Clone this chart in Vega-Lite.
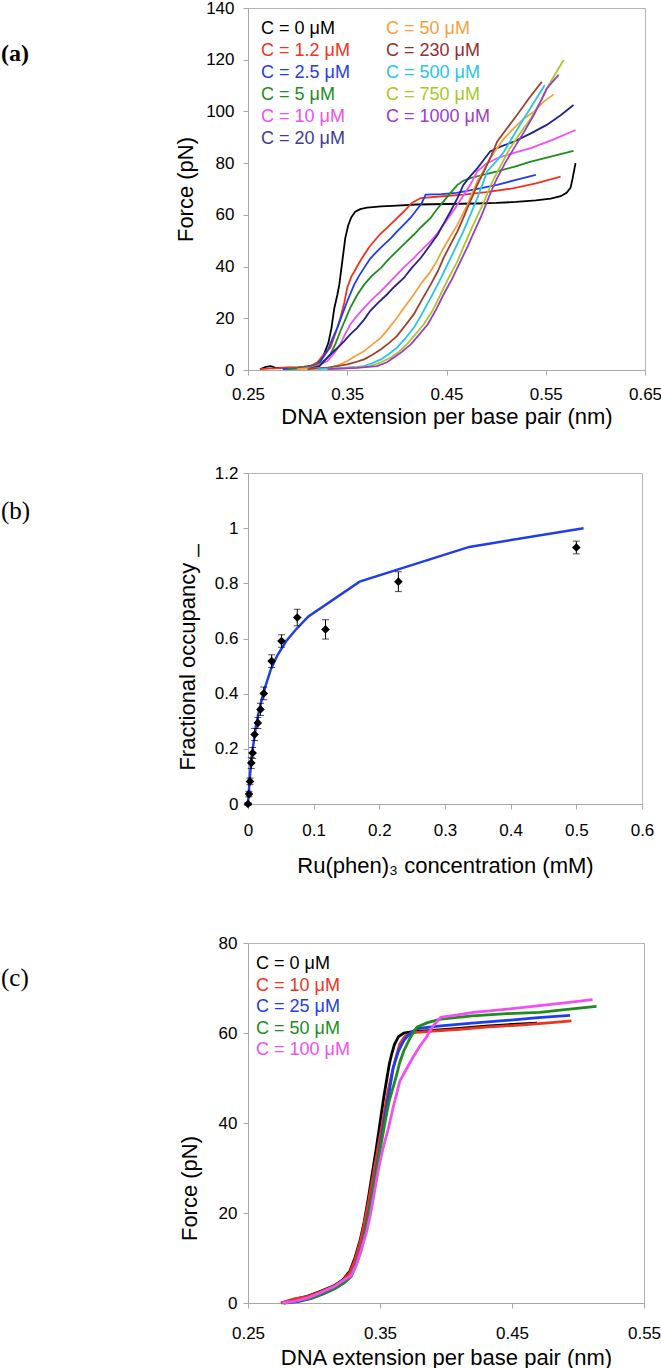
{
  "$schema": "https://vega.github.io/schema/vega-lite/v6.json",
  "padding": {"left": 0, "top": -2, "right": 0, "bottom": 0},
  "background": "white",
  "config": {
    "font": "Liberation Sans",
    "view": {"stroke": "#b4b4b4", "strokeWidth": 1},
    "axis": {"grid": false, "domainColor": "#a8a8a8", "tickColor": "#a8a8a8", "tickSize": 5, "labelFont": "Liberation Sans", "labelFontSize": 17, "labelColor": "#000000", "titleFont": "Liberation Sans", "titleFontSize": 22, "titleFontWeight": "normal", "titleColor": "#000000", "labelFlush": false, "labelOverlap": false},
    "legend": {"title": null, "symbolSize": 1, "symbolType": "circle", "symbolStrokeWidth": 0, "symbolOpacity": 0, "labelFont": "Liberation Sans", "labelFontSize": 18, "labelOffset": 0, "padding": 0, "labelLimit": 300}
  },
  "datasets": {
    "a": [
      {"series": "C = 0 μM", "x": 0.262, "F": 0.3}, {"series": "C = 0 μM", "x": 0.268, "F": 1.2}, {"series": "C = 0 μM", "x": 0.273, "F": 1.5}, {"series": "C = 0 μM", "x": 0.278, "F": 0.8}, {"series": "C = 0 μM", "x": 0.29, "F": 0.9}, {"series": "C = 0 μM", "x": 0.3, "F": 0.9}, {"series": "C = 0 μM", "x": 0.31, "F": 1.4}, {"series": "C = 0 μM", "x": 0.318, "F": 2.0}, {"series": "C = 0 μM", "x": 0.323, "F": 3.5}, {"series": "C = 0 μM", "x": 0.327, "F": 6.5}, {"series": "C = 0 μM", "x": 0.331, "F": 10.5}, {"series": "C = 0 μM", "x": 0.334, "F": 16}, {"series": "C = 0 μM", "x": 0.337, "F": 24}, {"series": "C = 0 μM", "x": 0.34, "F": 29}, {"series": "C = 0 μM", "x": 0.342, "F": 33}, {"series": "C = 0 μM", "x": 0.345, "F": 42}, {"series": "C = 0 μM", "x": 0.348, "F": 51}, {"series": "C = 0 μM", "x": 0.351, "F": 56}, {"series": "C = 0 μM", "x": 0.354, "F": 59}, {"series": "C = 0 μM", "x": 0.358, "F": 61.2}, {"series": "C = 0 μM", "x": 0.363, "F": 62.2}, {"series": "C = 0 μM", "x": 0.37, "F": 62.8}, {"series": "C = 0 μM", "x": 0.384, "F": 63.3}, {"series": "C = 0 μM", "x": 0.4, "F": 63.6}, {"series": "C = 0 μM", "x": 0.42, "F": 64.0}, {"series": "C = 0 μM", "x": 0.45, "F": 64.2}, {"series": "C = 0 μM", "x": 0.48, "F": 64.4}, {"series": "C = 0 μM", "x": 0.5, "F": 64.6}, {"series": "C = 0 μM", "x": 0.52, "F": 65.0}, {"series": "C = 0 μM", "x": 0.54, "F": 65.6}, {"series": "C = 0 μM", "x": 0.555, "F": 66.3}, {"series": "C = 0 μM", "x": 0.565, "F": 67.2}, {"series": "C = 0 μM", "x": 0.571, "F": 68.5}, {"series": "C = 0 μM", "x": 0.575, "F": 70.5}, {"series": "C = 0 μM", "x": 0.577, "F": 74}, {"series": "C = 0 μM", "x": 0.58, "F": 80},
      {"series": "C = 1.2 μM", "x": 0.262, "F": 0.3}, {"series": "C = 1.2 μM", "x": 0.275, "F": 0.6}, {"series": "C = 1.2 μM", "x": 0.29, "F": 0.9}, {"series": "C = 1.2 μM", "x": 0.3, "F": 1.0}, {"series": "C = 1.2 μM", "x": 0.313, "F": 1.5}, {"series": "C = 1.2 μM", "x": 0.32, "F": 3}, {"series": "C = 1.2 μM", "x": 0.325, "F": 5.4}, {"series": "C = 1.2 μM", "x": 0.33, "F": 7.5}, {"series": "C = 1.2 μM", "x": 0.333, "F": 8.6}, {"series": "C = 1.2 μM", "x": 0.338, "F": 14}, {"series": "C = 1.2 μM", "x": 0.343, "F": 20}, {"series": "C = 1.2 μM", "x": 0.347, "F": 26}, {"series": "C = 1.2 μM", "x": 0.35, "F": 31.8}, {"series": "C = 1.2 μM", "x": 0.354, "F": 36}, {"series": "C = 1.2 μM", "x": 0.357, "F": 38}, {"series": "C = 1.2 μM", "x": 0.362, "F": 41.5}, {"series": "C = 1.2 μM", "x": 0.367, "F": 44.6}, {"series": "C = 1.2 μM", "x": 0.372, "F": 47.5}, {"series": "C = 1.2 μM", "x": 0.377, "F": 49.8}, {"series": "C = 1.2 μM", "x": 0.383, "F": 52.5}, {"series": "C = 1.2 μM", "x": 0.39, "F": 55}, {"series": "C = 1.2 μM", "x": 0.398, "F": 58}, {"series": "C = 1.2 μM", "x": 0.407, "F": 61.3}, {"series": "C = 1.2 μM", "x": 0.415, "F": 64.6}, {"series": "C = 1.2 μM", "x": 0.424, "F": 66.5}, {"series": "C = 1.2 μM", "x": 0.44, "F": 67.0}, {"series": "C = 1.2 μM", "x": 0.467, "F": 67.8}, {"series": "C = 1.2 μM", "x": 0.49, "F": 68.8}, {"series": "C = 1.2 μM", "x": 0.518, "F": 70.3}, {"series": "C = 1.2 μM", "x": 0.54, "F": 72.2}, {"series": "C = 1.2 μM", "x": 0.565, "F": 74.8},
      {"series": "C = 2.5 μM", "x": 0.285, "F": 0.3}, {"series": "C = 2.5 μM", "x": 0.3, "F": 0.5}, {"series": "C = 2.5 μM", "x": 0.305, "F": 0.8}, {"series": "C = 2.5 μM", "x": 0.312, "F": 1.2}, {"series": "C = 2.5 μM", "x": 0.32, "F": 2.2}, {"series": "C = 2.5 μM", "x": 0.325, "F": 4.5}, {"series": "C = 2.5 μM", "x": 0.33, "F": 7.3}, {"series": "C = 2.5 μM", "x": 0.335, "F": 12}, {"series": "C = 2.5 μM", "x": 0.34, "F": 16.3}, {"series": "C = 2.5 μM", "x": 0.345, "F": 21.5}, {"series": "C = 2.5 μM", "x": 0.35, "F": 26.6}, {"series": "C = 2.5 μM", "x": 0.357, "F": 33}, {"series": "C = 2.5 μM", "x": 0.362, "F": 36.5}, {"series": "C = 2.5 μM", "x": 0.367, "F": 39.5}, {"series": "C = 2.5 μM", "x": 0.373, "F": 43}, {"series": "C = 2.5 μM", "x": 0.38, "F": 45.9}, {"series": "C = 2.5 μM", "x": 0.387, "F": 48.5}, {"series": "C = 2.5 μM", "x": 0.394, "F": 51}, {"series": "C = 2.5 μM", "x": 0.4, "F": 53.5}, {"series": "C = 2.5 μM", "x": 0.407, "F": 56.2}, {"series": "C = 2.5 μM", "x": 0.414, "F": 59}, {"series": "C = 2.5 μM", "x": 0.42, "F": 62}, {"series": "C = 2.5 μM", "x": 0.425, "F": 64.5}, {"series": "C = 2.5 μM", "x": 0.429, "F": 67.8}, {"series": "C = 2.5 μM", "x": 0.445, "F": 68.0}, {"series": "C = 2.5 μM", "x": 0.46, "F": 68.5}, {"series": "C = 2.5 μM", "x": 0.467, "F": 69}, {"series": "C = 2.5 μM", "x": 0.485, "F": 70.3}, {"series": "C = 2.5 μM", "x": 0.501, "F": 71.6}, {"series": "C = 2.5 μM", "x": 0.52, "F": 73.5}, {"series": "C = 2.5 μM", "x": 0.54, "F": 75.5},
      {"series": "C = 5 μM", "x": 0.29, "F": 0.3}, {"series": "C = 5 μM", "x": 0.305, "F": 0.9}, {"series": "C = 5 μM", "x": 0.315, "F": 1.5}, {"series": "C = 5 μM", "x": 0.322, "F": 2.5}, {"series": "C = 5 μM", "x": 0.328, "F": 4}, {"series": "C = 5 μM", "x": 0.333, "F": 6}, {"series": "C = 5 μM", "x": 0.338, "F": 10}, {"series": "C = 5 μM", "x": 0.343, "F": 15}, {"series": "C = 5 μM", "x": 0.348, "F": 19.5}, {"series": "C = 5 μM", "x": 0.353, "F": 24}, {"series": "C = 5 μM", "x": 0.36, "F": 29}, {"series": "C = 5 μM", "x": 0.367, "F": 33}, {"series": "C = 5 μM", "x": 0.375, "F": 36.5}, {"series": "C = 5 μM", "x": 0.384, "F": 39.5}, {"series": "C = 5 μM", "x": 0.392, "F": 43}, {"series": "C = 5 μM", "x": 0.4, "F": 46}, {"series": "C = 5 μM", "x": 0.408, "F": 49}, {"series": "C = 5 μM", "x": 0.417, "F": 52.3}, {"series": "C = 5 μM", "x": 0.425, "F": 55.5}, {"series": "C = 5 μM", "x": 0.434, "F": 58.8}, {"series": "C = 5 μM", "x": 0.44, "F": 62}, {"series": "C = 5 μM", "x": 0.447, "F": 65.2}, {"series": "C = 5 μM", "x": 0.454, "F": 68.5}, {"series": "C = 5 μM", "x": 0.461, "F": 71.6}, {"series": "C = 5 μM", "x": 0.467, "F": 73.2}, {"series": "C = 5 μM", "x": 0.474, "F": 74.2}, {"series": "C = 5 μM", "x": 0.49, "F": 75.8}, {"series": "C = 5 μM", "x": 0.501, "F": 76.8}, {"series": "C = 5 μM", "x": 0.518, "F": 78.6}, {"series": "C = 5 μM", "x": 0.535, "F": 80.6}, {"series": "C = 5 μM", "x": 0.555, "F": 82.5}, {"series": "C = 5 μM", "x": 0.578, "F": 84.7},
      {"series": "C = 10 μM", "x": 0.3, "F": 0.3}, {"series": "C = 10 μM", "x": 0.315, "F": 1}, {"series": "C = 10 μM", "x": 0.325, "F": 2.5}, {"series": "C = 10 μM", "x": 0.33, "F": 3.5}, {"series": "C = 10 μM", "x": 0.337, "F": 6.5}, {"series": "C = 10 μM", "x": 0.343, "F": 10}, {"series": "C = 10 μM", "x": 0.348, "F": 14}, {"series": "C = 10 μM", "x": 0.353, "F": 17.6}, {"series": "C = 10 μM", "x": 0.36, "F": 21}, {"series": "C = 10 μM", "x": 0.367, "F": 24}, {"series": "C = 10 μM", "x": 0.375, "F": 27.3}, {"series": "C = 10 μM", "x": 0.384, "F": 30.5}, {"series": "C = 10 μM", "x": 0.392, "F": 33.7}, {"series": "C = 10 μM", "x": 0.4, "F": 36.9}, {"series": "C = 10 μM", "x": 0.408, "F": 40.1}, {"series": "C = 10 μM", "x": 0.417, "F": 43.3}, {"series": "C = 10 μM", "x": 0.425, "F": 46.5}, {"series": "C = 10 μM", "x": 0.434, "F": 49.8}, {"series": "C = 10 μM", "x": 0.441, "F": 53}, {"series": "C = 10 μM", "x": 0.447, "F": 56.2}, {"series": "C = 10 μM", "x": 0.454, "F": 60}, {"series": "C = 10 μM", "x": 0.461, "F": 63.9}, {"series": "C = 10 μM", "x": 0.467, "F": 67.5}, {"series": "C = 10 μM", "x": 0.474, "F": 71.6}, {"series": "C = 10 μM", "x": 0.481, "F": 76.8}, {"series": "C = 10 μM", "x": 0.49, "F": 79.8}, {"series": "C = 10 μM", "x": 0.501, "F": 81.9}, {"series": "C = 10 μM", "x": 0.518, "F": 84}, {"series": "C = 10 μM", "x": 0.535, "F": 85.8}, {"series": "C = 10 μM", "x": 0.558, "F": 89.2}, {"series": "C = 10 μM", "x": 0.58, "F": 92.8},
      {"series": "C = 20 μM", "x": 0.31, "F": 0.3}, {"series": "C = 20 μM", "x": 0.322, "F": 1.5}, {"series": "C = 20 μM", "x": 0.333, "F": 6}, {"series": "C = 20 μM", "x": 0.34, "F": 8.5}, {"series": "C = 20 μM", "x": 0.347, "F": 11.2}, {"series": "C = 20 μM", "x": 0.353, "F": 13.8}, {"series": "C = 20 μM", "x": 0.36, "F": 16.3}, {"series": "C = 20 μM", "x": 0.367, "F": 19.5}, {"series": "C = 20 μM", "x": 0.373, "F": 22.8}, {"series": "C = 20 μM", "x": 0.381, "F": 26}, {"series": "C = 20 μM", "x": 0.39, "F": 29.2}, {"series": "C = 20 μM", "x": 0.398, "F": 32.4}, {"series": "C = 20 μM", "x": 0.407, "F": 35.6}, {"series": "C = 20 μM", "x": 0.415, "F": 39.5}, {"series": "C = 20 μM", "x": 0.424, "F": 43.3}, {"series": "C = 20 μM", "x": 0.432, "F": 47.5}, {"series": "C = 20 μM", "x": 0.441, "F": 52.3}, {"series": "C = 20 μM", "x": 0.447, "F": 56.5}, {"series": "C = 20 μM", "x": 0.454, "F": 61.3}, {"series": "C = 20 μM", "x": 0.461, "F": 66.5}, {"series": "C = 20 μM", "x": 0.467, "F": 71.6}, {"series": "C = 20 μM", "x": 0.474, "F": 75}, {"series": "C = 20 μM", "x": 0.481, "F": 78}, {"series": "C = 20 μM", "x": 0.488, "F": 81.5}, {"series": "C = 20 μM", "x": 0.494, "F": 84.5}, {"series": "C = 20 μM", "x": 0.505, "F": 86.5}, {"series": "C = 20 μM", "x": 0.518, "F": 88.3}, {"series": "C = 20 μM", "x": 0.535, "F": 91.5}, {"series": "C = 20 μM", "x": 0.551, "F": 94.8}, {"series": "C = 20 μM", "x": 0.565, "F": 98.5}, {"series": "C = 20 μM", "x": 0.578, "F": 102.5},
      {"series": "C = 50 μM", "x": 0.3, "F": 0.3}, {"series": "C = 50 μM", "x": 0.32, "F": 0.6}, {"series": "C = 50 μM", "x": 0.333, "F": 0.9}, {"series": "C = 50 μM", "x": 0.342, "F": 2}, {"series": "C = 50 μM", "x": 0.35, "F": 3.5}, {"series": "C = 50 μM", "x": 0.358, "F": 5.3}, {"series": "C = 50 μM", "x": 0.367, "F": 7.3}, {"series": "C = 50 μM", "x": 0.375, "F": 9.8}, {"series": "C = 50 μM", "x": 0.384, "F": 12.5}, {"series": "C = 50 μM", "x": 0.392, "F": 16.2}, {"series": "C = 50 μM", "x": 0.4, "F": 20.2}, {"series": "C = 50 μM", "x": 0.408, "F": 24.5}, {"series": "C = 50 μM", "x": 0.417, "F": 29.2}, {"series": "C = 50 μM", "x": 0.425, "F": 33.7}, {"series": "C = 50 μM", "x": 0.434, "F": 38.2}, {"series": "C = 50 μM", "x": 0.441, "F": 42.7}, {"series": "C = 50 μM", "x": 0.447, "F": 47.2}, {"series": "C = 50 μM", "x": 0.454, "F": 51.7}, {"series": "C = 50 μM", "x": 0.461, "F": 56.2}, {"series": "C = 50 μM", "x": 0.466, "F": 60}, {"series": "C = 50 μM", "x": 0.471, "F": 63.9}, {"series": "C = 50 μM", "x": 0.476, "F": 68.4}, {"series": "C = 50 μM", "x": 0.481, "F": 72.9}, {"series": "C = 50 μM", "x": 0.488, "F": 77.5}, {"series": "C = 50 μM", "x": 0.494, "F": 81.9}, {"series": "C = 50 μM", "x": 0.501, "F": 85.8}, {"series": "C = 50 μM", "x": 0.508, "F": 89.6}, {"series": "C = 50 μM", "x": 0.518, "F": 93.5}, {"series": "C = 50 μM", "x": 0.528, "F": 97.3}, {"series": "C = 50 μM", "x": 0.538, "F": 99.9}, {"series": "C = 50 μM", "x": 0.548, "F": 103.8}, {"series": "C = 50 μM", "x": 0.558, "F": 106.6},
      {"series": "C = 230 μM", "x": 0.31, "F": 0.3}, {"series": "C = 230 μM", "x": 0.33, "F": 0.9}, {"series": "C = 230 μM", "x": 0.34, "F": 1.5}, {"series": "C = 230 μM", "x": 0.35, "F": 2.2}, {"series": "C = 230 μM", "x": 0.358, "F": 3}, {"series": "C = 230 μM", "x": 0.367, "F": 4.1}, {"series": "C = 230 μM", "x": 0.375, "F": 5.8}, {"series": "C = 230 μM", "x": 0.384, "F": 8}, {"series": "C = 230 μM", "x": 0.392, "F": 10.4}, {"series": "C = 230 μM", "x": 0.4, "F": 13.1}, {"series": "C = 230 μM", "x": 0.408, "F": 17}, {"series": "C = 230 μM", "x": 0.417, "F": 21.5}, {"series": "C = 230 μM", "x": 0.425, "F": 27}, {"series": "C = 230 μM", "x": 0.434, "F": 33}, {"series": "C = 230 μM", "x": 0.441, "F": 38}, {"series": "C = 230 μM", "x": 0.447, "F": 43.3}, {"series": "C = 230 μM", "x": 0.454, "F": 48.5}, {"series": "C = 230 μM", "x": 0.461, "F": 53.6}, {"series": "C = 230 μM", "x": 0.466, "F": 58}, {"series": "C = 230 μM", "x": 0.471, "F": 62.6}, {"series": "C = 230 μM", "x": 0.476, "F": 67}, {"series": "C = 230 μM", "x": 0.481, "F": 71.6}, {"series": "C = 230 μM", "x": 0.488, "F": 77}, {"series": "C = 230 μM", "x": 0.494, "F": 81.9}, {"series": "C = 230 μM", "x": 0.501, "F": 88.3}, {"series": "C = 230 μM", "x": 0.511, "F": 93.5}, {"series": "C = 230 μM", "x": 0.521, "F": 98.6}, {"series": "C = 230 μM", "x": 0.533, "F": 105}, {"series": "C = 230 μM", "x": 0.546, "F": 111.5},
      {"series": "C = 500 μM", "x": 0.32, "F": 0.3}, {"series": "C = 500 μM", "x": 0.345, "F": 0.8}, {"series": "C = 500 μM", "x": 0.36, "F": 1.2}, {"series": "C = 500 μM", "x": 0.367, "F": 1.5}, {"series": "C = 500 μM", "x": 0.375, "F": 2.6}, {"series": "C = 500 μM", "x": 0.384, "F": 4.1}, {"series": "C = 500 μM", "x": 0.392, "F": 6.2}, {"series": "C = 500 μM", "x": 0.4, "F": 8.6}, {"series": "C = 500 μM", "x": 0.408, "F": 12}, {"series": "C = 500 μM", "x": 0.417, "F": 16.3}, {"series": "C = 500 μM", "x": 0.425, "F": 21.5}, {"series": "C = 500 μM", "x": 0.434, "F": 27.9}, {"series": "C = 500 μM", "x": 0.443, "F": 34.5}, {"series": "C = 500 μM", "x": 0.451, "F": 40.8}, {"series": "C = 500 μM", "x": 0.459, "F": 47.2}, {"series": "C = 500 μM", "x": 0.467, "F": 53.6}, {"series": "C = 500 μM", "x": 0.474, "F": 60}, {"series": "C = 500 μM", "x": 0.481, "F": 66.5}, {"series": "C = 500 μM", "x": 0.486, "F": 71.6}, {"series": "C = 500 μM", "x": 0.491, "F": 76.8}, {"series": "C = 500 μM", "x": 0.5, "F": 80.7}, {"series": "C = 500 μM", "x": 0.508, "F": 84.5}, {"series": "C = 500 μM", "x": 0.518, "F": 91}, {"series": "C = 500 μM", "x": 0.528, "F": 97.3}, {"series": "C = 500 μM", "x": 0.539, "F": 104}, {"series": "C = 500 μM", "x": 0.549, "F": 110.2},
      {"series": "C = 750 μM", "x": 0.33, "F": 0.3}, {"series": "C = 750 μM", "x": 0.355, "F": 0.8}, {"series": "C = 750 μM", "x": 0.373, "F": 1.5}, {"series": "C = 750 μM", "x": 0.384, "F": 3}, {"series": "C = 750 μM", "x": 0.394, "F": 4.8}, {"series": "C = 750 μM", "x": 0.402, "F": 7}, {"series": "C = 750 μM", "x": 0.41, "F": 9.9}, {"series": "C = 750 μM", "x": 0.418, "F": 13.5}, {"series": "C = 750 μM", "x": 0.427, "F": 17.6}, {"series": "C = 750 μM", "x": 0.436, "F": 23}, {"series": "C = 750 μM", "x": 0.444, "F": 29.2}, {"series": "C = 750 μM", "x": 0.452, "F": 35.5}, {"series": "C = 750 μM", "x": 0.461, "F": 42}, {"series": "C = 750 μM", "x": 0.467, "F": 47.5}, {"series": "C = 750 μM", "x": 0.474, "F": 53.6}, {"series": "C = 750 μM", "x": 0.481, "F": 59.5}, {"series": "C = 750 μM", "x": 0.488, "F": 65.2}, {"series": "C = 750 μM", "x": 0.493, "F": 70}, {"series": "C = 750 μM", "x": 0.498, "F": 74.2}, {"series": "C = 750 μM", "x": 0.506, "F": 80}, {"series": "C = 750 μM", "x": 0.514, "F": 85.8}, {"series": "C = 750 μM", "x": 0.524, "F": 91.5}, {"series": "C = 750 μM", "x": 0.535, "F": 97.3}, {"series": "C = 750 μM", "x": 0.545, "F": 104}, {"series": "C = 750 μM", "x": 0.555, "F": 111.5}, {"series": "C = 750 μM", "x": 0.562, "F": 116}, {"series": "C = 750 μM", "x": 0.568, "F": 119.9},
      {"series": "C = 1000 μM", "x": 0.33, "F": 0.3}, {"series": "C = 1000 μM", "x": 0.36, "F": 0.8}, {"series": "C = 1000 μM", "x": 0.38, "F": 1.5}, {"series": "C = 1000 μM", "x": 0.39, "F": 3}, {"series": "C = 1000 μM", "x": 0.397, "F": 4.8}, {"series": "C = 1000 μM", "x": 0.405, "F": 7}, {"series": "C = 1000 μM", "x": 0.414, "F": 9.9}, {"series": "C = 1000 μM", "x": 0.422, "F": 13.5}, {"series": "C = 1000 μM", "x": 0.431, "F": 17.6}, {"series": "C = 1000 μM", "x": 0.439, "F": 23}, {"series": "C = 1000 μM", "x": 0.447, "F": 29.2}, {"series": "C = 1000 μM", "x": 0.456, "F": 35.5}, {"series": "C = 1000 μM", "x": 0.464, "F": 42}, {"series": "C = 1000 μM", "x": 0.471, "F": 47.5}, {"series": "C = 1000 μM", "x": 0.478, "F": 53.6}, {"series": "C = 1000 μM", "x": 0.485, "F": 59.5}, {"series": "C = 1000 μM", "x": 0.491, "F": 65.2}, {"series": "C = 1000 μM", "x": 0.496, "F": 70}, {"series": "C = 1000 μM", "x": 0.501, "F": 74.2}, {"series": "C = 1000 μM", "x": 0.509, "F": 80}, {"series": "C = 1000 μM", "x": 0.518, "F": 85.8}, {"series": "C = 1000 μM", "x": 0.528, "F": 92}, {"series": "C = 1000 μM", "x": 0.538, "F": 98.6}, {"series": "C = 1000 μM", "x": 0.545, "F": 104}, {"series": "C = 1000 μM", "x": 0.551, "F": 108.9}, {"series": "C = 1000 μM", "x": 0.557, "F": 111.5}, {"series": "C = 1000 μM", "x": 0.563, "F": 114.1}
    ],
    "bpts": [
      {"c": 0, "occ": 0, "err": 0.005}, {"c": 0.0015, "occ": 0.036, "err": 0.01}, {"c": 0.003, "occ": 0.082, "err": 0.012}, {"c": 0.005, "occ": 0.149, "err": 0.02}, {"c": 0.007, "occ": 0.185, "err": 0.02}, {"c": 0.01, "occ": 0.252, "err": 0.022}, {"c": 0.015, "occ": 0.294, "err": 0.02}, {"c": 0.019, "occ": 0.343, "err": 0.022}, {"c": 0.024, "occ": 0.401, "err": 0.023}, {"c": 0.036, "occ": 0.518, "err": 0.023}, {"c": 0.051, "occ": 0.591, "err": 0.023}, {"c": 0.075, "occ": 0.676, "err": 0.03}, {"c": 0.118, "occ": 0.633, "err": 0.035}, {"c": 0.229, "occ": 0.806, "err": 0.036}, {"c": 0.5, "occ": 0.93, "err": 0.023}
    ],
    "bfit": [
      {"c": 0, "occ": 0}, {"c": 0.002, "occ": 0.07}, {"c": 0.004, "occ": 0.13}, {"c": 0.006, "occ": 0.18}, {"c": 0.009, "occ": 0.23}, {"c": 0.012, "occ": 0.28}, {"c": 0.016, "occ": 0.33}, {"c": 0.021, "occ": 0.38}, {"c": 0.027, "occ": 0.43}, {"c": 0.035, "occ": 0.49}, {"c": 0.045, "occ": 0.54}, {"c": 0.058, "occ": 0.59}, {"c": 0.072, "occ": 0.63}, {"c": 0.092, "occ": 0.68}, {"c": 0.17, "occ": 0.806}, {"c": 0.337, "occ": 0.932}, {"c": 0.511, "occ": 1.0}
    ],
    "c": [
      {"series": "C = 0 μM", "x": 0.275, "F": 0}, {"series": "C = 0 μM", "x": 0.285, "F": 0.8}, {"series": "C = 0 μM", "x": 0.295, "F": 1.5}, {"series": "C = 0 μM", "x": 0.305, "F": 2.6}, {"series": "C = 0 μM", "x": 0.315, "F": 3.8}, {"series": "C = 0 μM", "x": 0.322, "F": 5.2}, {"series": "C = 0 μM", "x": 0.327, "F": 7}, {"series": "C = 0 μM", "x": 0.331, "F": 10}, {"series": "C = 0 μM", "x": 0.335, "F": 14}, {"series": "C = 0 μM", "x": 0.338, "F": 18}, {"series": "C = 0 μM", "x": 0.341, "F": 23}, {"series": "C = 0 μM", "x": 0.344, "F": 28.5}, {"series": "C = 0 μM", "x": 0.347, "F": 34}, {"series": "C = 0 μM", "x": 0.35, "F": 40}, {"series": "C = 0 μM", "x": 0.353, "F": 46}, {"series": "C = 0 μM", "x": 0.355, "F": 49.5}, {"series": "C = 0 μM", "x": 0.357, "F": 53}, {"series": "C = 0 μM", "x": 0.359, "F": 55.5}, {"series": "C = 0 μM", "x": 0.361, "F": 57.5}, {"series": "C = 0 μM", "x": 0.364, "F": 59.2}, {"series": "C = 0 μM", "x": 0.368, "F": 60}, {"series": "C = 0 μM", "x": 0.375, "F": 60.3}, {"series": "C = 0 μM", "x": 0.39, "F": 60.6}, {"series": "C = 0 μM", "x": 0.41, "F": 61.0}, {"series": "C = 0 μM", "x": 0.43, "F": 61.5}, {"series": "C = 0 μM", "x": 0.45, "F": 61.9}, {"series": "C = 0 μM", "x": 0.469, "F": 62.2},
      {"series": "C = 10 μM", "x": 0.275, "F": 0}, {"series": "C = 10 μM", "x": 0.285, "F": 0.9}, {"series": "C = 10 μM", "x": 0.295, "F": 1.4}, {"series": "C = 10 μM", "x": 0.305, "F": 2.5}, {"series": "C = 10 μM", "x": 0.315, "F": 3.7}, {"series": "C = 10 μM", "x": 0.322, "F": 5}, {"series": "C = 10 μM", "x": 0.327, "F": 6.7}, {"series": "C = 10 μM", "x": 0.331, "F": 9.5}, {"series": "C = 10 μM", "x": 0.335, "F": 13.5}, {"series": "C = 10 μM", "x": 0.338, "F": 17.5}, {"series": "C = 10 μM", "x": 0.341, "F": 22}, {"series": "C = 10 μM", "x": 0.344, "F": 27}, {"series": "C = 10 μM", "x": 0.347, "F": 32}, {"series": "C = 10 μM", "x": 0.35, "F": 37}, {"series": "C = 10 μM", "x": 0.353, "F": 42}, {"series": "C = 10 μM", "x": 0.356, "F": 47}, {"series": "C = 10 μM", "x": 0.359, "F": 51}, {"series": "C = 10 μM", "x": 0.362, "F": 54.5}, {"series": "C = 10 μM", "x": 0.365, "F": 57.6}, {"series": "C = 10 μM", "x": 0.369, "F": 59.3}, {"series": "C = 10 μM", "x": 0.375, "F": 60.1}, {"series": "C = 10 μM", "x": 0.39, "F": 60.4}, {"series": "C = 10 μM", "x": 0.41, "F": 60.8}, {"series": "C = 10 μM", "x": 0.43, "F": 61.3}, {"series": "C = 10 μM", "x": 0.458, "F": 61.8}, {"series": "C = 10 μM", "x": 0.48, "F": 62.3}, {"series": "C = 10 μM", "x": 0.495, "F": 62.7},
      {"series": "C = 25 μM", "x": 0.277, "F": 0}, {"series": "C = 25 μM", "x": 0.288, "F": 0.3}, {"series": "C = 25 μM", "x": 0.298, "F": 1}, {"series": "C = 25 μM", "x": 0.307, "F": 2}, {"series": "C = 25 μM", "x": 0.316, "F": 3.2}, {"series": "C = 25 μM", "x": 0.323, "F": 4.5}, {"series": "C = 25 μM", "x": 0.328, "F": 6}, {"series": "C = 25 μM", "x": 0.332, "F": 8.8}, {"series": "C = 25 μM", "x": 0.336, "F": 12.5}, {"series": "C = 25 μM", "x": 0.339, "F": 16.5}, {"series": "C = 25 μM", "x": 0.342, "F": 21}, {"series": "C = 25 μM", "x": 0.345, "F": 26}, {"series": "C = 25 μM", "x": 0.348, "F": 31}, {"series": "C = 25 μM", "x": 0.351, "F": 36.5}, {"series": "C = 25 μM", "x": 0.354, "F": 42}, {"series": "C = 25 μM", "x": 0.357, "F": 47}, {"series": "C = 25 μM", "x": 0.36, "F": 52.3}, {"series": "C = 25 μM", "x": 0.364, "F": 56}, {"series": "C = 25 μM", "x": 0.368, "F": 58.3}, {"series": "C = 25 μM", "x": 0.373, "F": 60}, {"series": "C = 25 μM", "x": 0.378, "F": 61}, {"series": "C = 25 μM", "x": 0.396, "F": 61.6}, {"series": "C = 25 μM", "x": 0.42, "F": 62.2}, {"series": "C = 25 μM", "x": 0.446, "F": 62.8}, {"series": "C = 25 μM", "x": 0.47, "F": 63.4}, {"series": "C = 25 μM", "x": 0.494, "F": 63.9},
      {"series": "C = 50 μM", "x": 0.277, "F": 0}, {"series": "C = 50 μM", "x": 0.288, "F": 0.5}, {"series": "C = 50 μM", "x": 0.298, "F": 1.1}, {"series": "C = 50 μM", "x": 0.307, "F": 2.1}, {"series": "C = 50 μM", "x": 0.316, "F": 3.3}, {"series": "C = 50 μM", "x": 0.323, "F": 4.6}, {"series": "C = 50 μM", "x": 0.328, "F": 5.8}, {"series": "C = 50 μM", "x": 0.332, "F": 8.5}, {"series": "C = 50 μM", "x": 0.336, "F": 12}, {"series": "C = 50 μM", "x": 0.339, "F": 16}, {"series": "C = 50 μM", "x": 0.342, "F": 20.5}, {"series": "C = 50 μM", "x": 0.345, "F": 25.5}, {"series": "C = 50 μM", "x": 0.348, "F": 30.5}, {"series": "C = 50 μM", "x": 0.351, "F": 35.5}, {"series": "C = 50 μM", "x": 0.354, "F": 40.5}, {"series": "C = 50 μM", "x": 0.357, "F": 45}, {"series": "C = 50 μM", "x": 0.362, "F": 50}, {"series": "C = 50 μM", "x": 0.365, "F": 53.5}, {"series": "C = 50 μM", "x": 0.368, "F": 56}, {"series": "C = 50 μM", "x": 0.373, "F": 59}, {"series": "C = 50 μM", "x": 0.378, "F": 61.3}, {"series": "C = 50 μM", "x": 0.386, "F": 62.3}, {"series": "C = 50 μM", "x": 0.396, "F": 63.1}, {"series": "C = 50 μM", "x": 0.42, "F": 63.8}, {"series": "C = 50 μM", "x": 0.446, "F": 64.3}, {"series": "C = 50 μM", "x": 0.471, "F": 64.6}, {"series": "C = 50 μM", "x": 0.49, "F": 65.2}, {"series": "C = 50 μM", "x": 0.514, "F": 65.9},
      {"series": "C = 100 μM", "x": 0.276, "F": 0}, {"series": "C = 100 μM", "x": 0.286, "F": 0.4}, {"series": "C = 100 μM", "x": 0.296, "F": 1.2}, {"series": "C = 100 μM", "x": 0.305, "F": 2.3}, {"series": "C = 100 μM", "x": 0.315, "F": 3.6}, {"series": "C = 100 μM", "x": 0.322, "F": 5}, {"series": "C = 100 μM", "x": 0.328, "F": 6}, {"series": "C = 100 μM", "x": 0.332, "F": 8.5}, {"series": "C = 100 μM", "x": 0.336, "F": 12}, {"series": "C = 100 μM", "x": 0.34, "F": 16}, {"series": "C = 100 μM", "x": 0.343, "F": 20}, {"series": "C = 100 μM", "x": 0.346, "F": 25}, {"series": "C = 100 μM", "x": 0.349, "F": 30}, {"series": "C = 100 μM", "x": 0.352, "F": 34}, {"series": "C = 100 μM", "x": 0.3565, "F": 39}, {"series": "C = 100 μM", "x": 0.36, "F": 43.5}, {"series": "C = 100 μM", "x": 0.365, "F": 49.3}, {"series": "C = 100 μM", "x": 0.37, "F": 52}, {"series": "C = 100 μM", "x": 0.375, "F": 54.6}, {"series": "C = 100 μM", "x": 0.38, "F": 57}, {"series": "C = 100 μM", "x": 0.385, "F": 59}, {"series": "C = 100 μM", "x": 0.39, "F": 61.5}, {"series": "C = 100 μM", "x": 0.396, "F": 63.5}, {"series": "C = 100 μM", "x": 0.41, "F": 64.1}, {"series": "C = 100 μM", "x": 0.421, "F": 64.6}, {"series": "C = 100 μM", "x": 0.45, "F": 65.4}, {"series": "C = 100 μM", "x": 0.471, "F": 66.1}, {"series": "C = 100 μM", "x": 0.49, "F": 66.7}, {"series": "C = 100 μM", "x": 0.511, "F": 67.4}
    ]
  },
  "resolve": {"scale": {"color": "independent"}, "legend": {"color": "independent"}},
  "spacing": 56,
  "vconcat": [
    {
      "spacing": 35,
      "vconcat": [
        {
          "width": 397,
          "height": 362,
          "title": {"text": "(a)", "anchor": "start", "frame": "group", "orient": "top", "offset": 0, "dx": -247, "dy": 86, "baseline": "alphabetic", "font": "Liberation Serif", "fontSize": 24, "fontWeight": "bold", "color": "#000000"},
          "data": {"name": "a"},
          "mark": {"type": "line", "strokeWidth": 1.8},
          "encoding": {
            "x": {"field": "x", "type": "quantitative", "scale": {"domain": [0.25, 0.65], "nice": false, "zero": false}, "axis": {"values": [0.25, 0.35, 0.45, 0.55, 0.65], "format": ".2f", "title": "DNA extension per base pair (nm)", "labelPadding": 11, "titlePadding": 4}},
            "y": {"field": "F", "type": "quantitative", "scale": {"domain": [0, 140], "nice": false}, "axis": {"values": [0, 20, 40, 60, 80, 100, 120, 140], "title": "Force (pN)", "labelPadding": 9, "titlePadding": 8}},
            "color": {
              "field": "series", "type": "nominal",
              "scale": {
                "domain": ["C = 0 μM", "C = 1.2 μM", "C = 2.5 μM", "C = 5 μM", "C = 10 μM", "C = 20 μM", "C = 50 μM", "C = 230 μM", "C = 500 μM", "C = 750 μM", "C = 1000 μM"],
                "range": ["#000000", "#f0321e", "#1e3cf0", "#1e8c1e", "#f050f0", "#23238c", "#f7a03c", "#a0402a", "#28c4ea", "#a8c828", "#9c3cc8"]
              },
              "legend": {
                "orient": "none", "legendX": -5, "legendY": 12, "columns": 2, "rowPadding": 4, "columnPadding": 18,
                "encode": {"labels": {"update": {"fill": {"signal": "['#000000','#f0321e','#1e3cf0','#1e8c1e','#f050f0','#3c3c96','#f7a03c','#962d2d','#28c4ea','#a8c828','#9c3cc8'][indexof(['C = 0 μM','C = 1.2 μM','C = 2.5 μM','C = 5 μM','C = 10 μM','C = 20 μM','C = 50 μM','C = 230 μM','C = 500 μM','C = 750 μM','C = 1000 μM'], datum.value)]"}}}}
              }
            }
          }
        },
        {
          "width": 394,
          "height": 331,
          "title": {"text": "(b)", "anchor": "start", "frame": "group", "orient": "top", "offset": 0, "dx": -247, "dy": 80, "baseline": "alphabetic", "font": "Liberation Serif", "fontSize": 25, "fontWeight": "normal", "color": "#000000"},
          "encoding": {
            "x": {"field": "c", "type": "quantitative", "scale": {"domain": [0, 0.6], "nice": false}, "axis": {"values": [0, 0.1, 0.2, 0.3, 0.4, 0.5, 0.6], "format": ".1~f", "title": "Ru(phen)₃ concentration (mM)", "labelPadding": 13, "titlePadding": 17}},
            "y": {"field": "occ", "type": "quantitative", "scale": {"domain": [0, 1.2], "nice": false}, "axis": {"values": [0, 0.2, 0.4, 0.6, 0.8, 1, 1.2], "format": ".1~f", "title": "Fractional occupancy _", "labelPadding": 5, "titlePadding": 15, "titleY": 184}}
          },
          "layer": [
            {"data": {"name": "bfit"}, "mark": {"type": "line", "color": "#1f3ee6", "strokeWidth": 2.5}},
            {"data": {"name": "bpts"}, "mark": {"type": "errorbar", "ticks": {"size": 7, "color": "#000000"}, "rule": {"color": "#000000", "strokeWidth": 1}}, "encoding": {"yError": {"field": "err"}}},
            {"data": {"name": "bpts"}, "mark": {"type": "point", "shape": "diamond", "filled": true, "color": "#000000", "opacity": 1, "size": 75}}
          ]
        }
      ]
    },
    {
      "width": 396,
      "height": 360,
      "title": {"text": "(c)", "anchor": "start", "frame": "group", "orient": "top", "offset": 0, "dx": -247, "dy": 77, "baseline": "alphabetic", "font": "Liberation Serif", "fontSize": 25, "fontWeight": "normal", "color": "#000000"},
      "data": {"name": "c"},
      "mark": {"type": "line", "strokeWidth": 2.8},
      "encoding": {
        "x": {"field": "x", "type": "quantitative", "scale": {"domain": [0.25, 0.55], "nice": false, "zero": false}, "axis": {"values": [0.25, 0.35, 0.45, 0.55], "format": ".2f", "title": "DNA extension per base pair (nm)", "labelPadding": 17, "titlePadding": 6}},
        "y": {"field": "F", "type": "quantitative", "scale": {"domain": [0, 80], "nice": false}, "axis": {"values": [0, 20, 40, 60, 80], "title": "Force (pN)", "labelPadding": 6, "titlePadding": 17, "titleY": 245}},
        "color": {
          "field": "series", "type": "nominal",
          "scale": {
            "domain": ["C = 0 μM", "C = 10 μM", "C = 25 μM", "C = 50 μM", "C = 100 μM"],
            "range": ["#000000", "#f0321e", "#1e3cf0", "#1e8c1e", "#f050f0"]
          },
          "legend": {
            "orient": "none", "legendX": -10, "legendY": 12, "columns": 1, "rowPadding": 3.5,
            "encode": {"labels": {"update": {"fill": {"signal": "['#000000','#f0321e','#1e3cf0','#1e8c1e','#f050f0'][indexof(['C = 0 μM','C = 10 μM','C = 25 μM','C = 50 μM','C = 100 μM'], datum.value)]"}}}}
          }
        }
      }
    }
  ]
}
